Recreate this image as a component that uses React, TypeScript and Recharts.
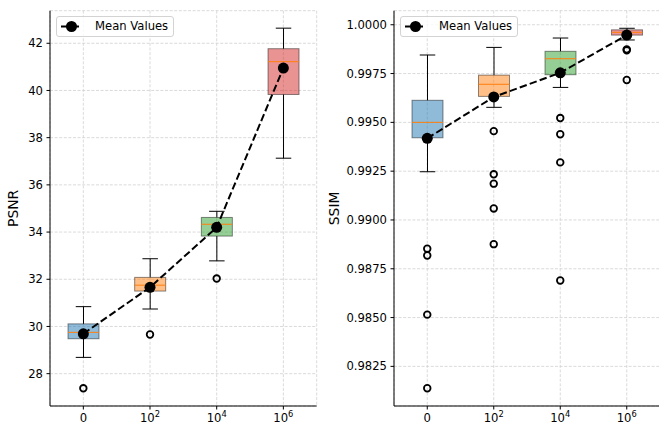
import React from 'react';
import { ComposedChart, Bar, Line, XAxis, YAxis, CartesianGrid, Legend } from 'recharts';

const categories = ['0', '10^2', '10^4', '10^6'];

// PSNR box statistics
const psnrWhiskerLow = [28.69, 30.74, 32.78, 37.13];
const psnrQ1 = [29.48, 31.5, 33.83, 39.83];
const psnrMedian = [29.75, 31.75, 34.33, 41.22];
const psnrQ3 = [30.11, 32.08, 34.62, 41.77];
const psnrWhiskerHigh = [30.84, 32.87, 34.88, 42.64];
const psnrMean = [29.69, 31.66, 34.2, 40.95];
const psnrOutliers = [[27.38], [29.66], [32.03], []];
const psnrTicks = [28, 30, 32, 34, 36, 38, 40, 42];

// SSIM box statistics
const ssimWhiskerLow = [0.99247, 0.99577, 0.99679, 0.99922];
const ssimQ1 = [0.99421, 0.99633, 0.99744, 0.99947];
const ssimMedian = [0.995, 0.99695, 0.99826, 0.99961];
const ssimQ3 = [0.99613, 0.99742, 0.99864, 0.99974];
const ssimWhiskerHigh = [0.99845, 0.99884, 0.99932, 0.99982];
const ssimMean = [0.99418, 0.9963, 0.99754, 0.99947];
const ssimOutliers = [
  [0.98853, 0.98818, 0.98515, 0.98138],
  [0.99455, 0.99234, 0.99186, 0.99059, 0.98876],
  [0.99522, 0.99439, 0.99295, 0.9869],
  [0.99874, 0.99869, 0.99717],
];
const ssimTicks = [0.9825, 0.985, 0.9875, 0.99, 0.9925, 0.995, 0.9975, 1.0];

const boxColors = ['#1f77b4', '#ff7f0e', '#2ca02c', '#d62728'];
const FONT = 'DejaVu Sans';
const FS = 11.6;
const LABEL_FS = 13.9;
const MAX_OUT = 5;

function buildRows(lo: number[], q1: number[], med: number[], q3: number[], hi: number[], mean: number[], outs: number[][]) {
  return categories.map((c, i) => {
    const row: any = { cat: c, range: [lo[i], hi[i]], lo: lo[i], q1: q1[i], med: med[i], q3: q3[i], hi: hi[i], mean: mean[i], idx: i };
    for (let k = 0; k < MAX_OUT; k++) row['o' + k] = outs[i][k] !== undefined ? outs[i][k] : null;
    return row;
  });
}

const psnrRows = buildRows(psnrWhiskerLow, psnrQ1, psnrMedian, psnrQ3, psnrWhiskerHigh, psnrMean, psnrOutliers);
const ssimRows = buildRows(ssimWhiskerLow, ssimQ1, ssimMedian, ssimQ3, ssimWhiskerHigh, ssimMean, ssimOutliers);

const BoxShape = (props: any) => {
  const { x, y, width, height, payload } = props;
  if (!payload || x == null || y == null) return null;
  const { lo, hi, q1, med, q3, idx } = payload;
  const top = Math.min(y, y + height);
  const h = Math.abs(height);
  const span = hi - lo;
  const py = (v: number) => top + ((hi - v) / span) * h;
  const cx = x + width / 2;
  const capHalf = width / 4;
  const color = boxColors[idx];
  return (
    <g>
      <line x1={cx} x2={cx} y1={py(hi)} y2={py(q3)} stroke="#000" strokeWidth={1} />
      <line x1={cx} x2={cx} y1={py(q1)} y2={py(lo)} stroke="#000" strokeWidth={1} />
      <line x1={cx - capHalf} x2={cx + capHalf} y1={py(hi)} y2={py(hi)} stroke="#000" strokeWidth={1} />
      <line x1={cx - capHalf} x2={cx + capHalf} y1={py(lo)} y2={py(lo)} stroke="#000" strokeWidth={1} />
      <rect x={x} y={py(q3)} width={width} height={py(q1) - py(q3)} fill={color} fillOpacity={0.5} stroke="#000" strokeOpacity={0.45} strokeWidth={1} />
      <line x1={x} x2={x + width} y1={py(med)} y2={py(med)} stroke="#ff7f0e" strokeWidth={1} />
    </g>
  );
};

const XTick = (props: any) => {
  const { x, y, payload } = props;
  const v = String(payload.value);
  const parts = v.split('^');
  return (
    <text x={x} y={y} dy={9.5} textAnchor="middle" fontSize={FS} fill="#000" fontFamily={FONT}>
      {parts[0]}
      {parts[1] ? (
        <tspan dy={-4.6} fontSize={8.3}>
          {parts[1]}
        </tspan>
      ) : null}
    </text>
  );
};

const YLabel = (props: any) => {
  const { viewBox, text, bx } = props;
  const cy = viewBox ? viewBox.y + viewBox.height / 2 : 208;
  return (
    <text x={bx} y={cy} transform={`rotate(-90, ${bx}, ${cy})`} textAnchor="middle" fontSize={LABEL_FS} fill="#000" fontFamily={FONT}>
      {text}
    </text>
  );
};

const MeanLegend = () => (
  <div
    style={{
      width: 118,
      height: 21,
      border: '1px solid #d3d3d3',
      borderRadius: 3,
      background: 'rgba(255,255,255,0.8)',
      boxSizing: 'border-box',
      position: 'relative',
      fontFamily: FONT,
      fontSize: FS,
      color: '#000',
    }}
  >
    <svg width={30} height={19} style={{ position: 'absolute', left: 3, top: 0 }}>
      <line x1={1} x2={22} y1={9.5} y2={9.5} stroke="#000" strokeWidth={2} strokeDasharray="7.4 3.2" />
      <circle cx={11.5} cy={9.5} r={5.5} fill="#000" />
    </svg>
    <span style={{ position: 'absolute', left: 38, top: 2, lineHeight: '14px', whiteSpace: 'nowrap' }}>Mean Values</span>
  </div>
);

type PanelProps = {
  rows: any[];
  domain: [number, number];
  ticks: number[];
  fmt: (v: number) => string;
  label: string;
  width: number;
  yAxisWidth: number;
  marginRight: number;
  labelX: number;
  legendLeft: number;
};

const Panel = ({ rows, domain, ticks, fmt, label, width, yAxisWidth, marginRight, labelX, legendLeft }: PanelProps) => (
  <ComposedChart
    width={width}
    height={426}
    data={rows}
    margin={{ top: 10.7, right: marginRight, bottom: 0, left: 0 }}
    style={{ fontFamily: FONT }}
  >
    <CartesianGrid strokeDasharray="3 1.6" stroke="#d0d0d0" strokeWidth={0.8} />
    <XAxis
      dataKey="cat"
      type="category"
      height={20}
      interval={0}
      tick={<XTick />}
      tickSize={3.5}
      tickMargin={3}
      axisLine={{ stroke: '#000', strokeWidth: 1 }}
      tickLine={{ stroke: '#000', strokeWidth: 1 }}
    />
    <XAxis xAxisId="top" dataKey="cat" orientation="top" height={0} tick={false} tickLine={false} axisLine={{ stroke: '#000', strokeWidth: 1 }} />
    <YAxis
      type="number"
      domain={domain}
      ticks={ticks}
      allowDataOverflow
      width={yAxisWidth}
      tickFormatter={fmt}
      tickSize={3.5}
      tickMargin={3.5}
      interval={0}
      tick={{ fontSize: FS, fill: '#000', fontFamily: FONT }}
      axisLine={{ stroke: '#000', strokeWidth: 1 }}
      tickLine={{ stroke: '#000', strokeWidth: 1 }}
      label={<YLabel text={label} bx={labelX} />}
    />
    <YAxis yAxisId="right" orientation="right" width={0} tick={false} tickLine={false} axisLine={{ stroke: '#000', strokeWidth: 1 }} />
    <Bar dataKey="range" barSize={31} shape={<BoxShape />} isAnimationActive={false} legendType="none" />
    {Array.from({ length: MAX_OUT }).map((_, k) => (
      <Line
        key={k}
        dataKey={'o' + k}
        stroke="none"
        dot={{ r: 3.3, fill: 'none', stroke: '#000', strokeWidth: 1.8 }}
        activeDot={false}
        isAnimationActive={false}
        legendType="none"
      />
    ))}
    <Line
      dataKey="mean"
      type="linear"
      stroke="#000"
      strokeWidth={2}
      strokeDasharray="7.4 3.2"
      dot={{ r: 5.5, fill: '#000', stroke: '#000', strokeWidth: 0 }}
      activeDot={false}
      isAnimationActive={false}
      name="Mean Values"
    />
    <Legend
      layout="horizontal"
      verticalAlign="middle"
      align="center"
      content={<MeanLegend />}
      wrapperStyle={{ position: 'absolute', left: legendLeft, top: 16, width: 'auto', height: 'auto', margin: 0 }}
    />
  </ComposedChart>
);

export default function App() {
  return (
    <div style={{ position: 'absolute', left: 0, top: 0, width: 659, height: 426, overflow: 'hidden', background: '#fff' }}>
      <div style={{ position: 'absolute', left: 0, top: 0 }}>
        <Panel
          rows={psnrRows}
          domain={[26.63, 43.38]}
          ticks={psnrTicks}
          fmt={(v: number) => String(v)}
          label="PSNR"
          width={330}
          yAxisWidth={50}
          marginRight={13.3}
          labelX={18}
          legendLeft={56}
        />
      </div>
      <div style={{ position: 'absolute', left: 320, top: 0 }}>
        <Panel
          rows={ssimRows}
          domain={[0.98047, 1.00072]}
          ticks={ssimTicks}
          fmt={(v: number) => v.toFixed(4)}
          label="SSIM"
          width={340}
          yAxisWidth={74}
          marginRight={0}
          labelX={19}
          legendLeft={80}
        />
      </div>
    </div>
  );
}
